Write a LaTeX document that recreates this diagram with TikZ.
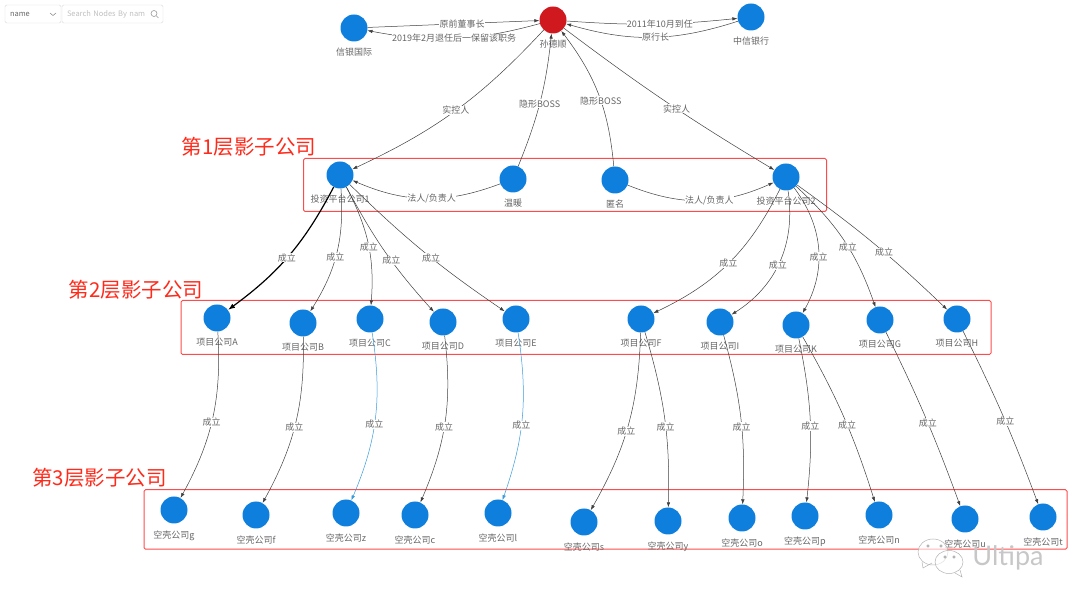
\documentclass[tikz,border=0pt]{standalone}
\usepackage{fontspec}
\setmainfont{Noto Sans CJK SC}
\newfontfamily\wmfont{Lato}
\usetikzlibrary{arrows.meta,shapes.geometric}
\definecolor{nodeblue}{HTML}{0F7FDE}
\definecolor{nodered}{HTML}{D0181F}
\definecolor{framered}{HTML}{FF4B4B}
\definecolor{titlered}{HTML}{FF2A1A}
\definecolor{linkblue}{HTML}{3A9BDC}
\definecolor{textgray}{HTML}{666666}

\begin{document}
\begin{tikzpicture}
[x=1pt,y=1pt,inner sep=0.5mm,label distance=6.5pt,
company/.style={circle,fill=nodeblue,minimum size=27pt,inner sep=0pt},
boss/.style={circle,fill=nodered,minimum size=27pt,inner sep=0pt},
tag/.style={text=textgray,font=\fontsize{9}{9}\selectfont,inner sep=0pt},
rel/.style={draw=black!75,line width=0.5pt,-{Latex[length=5pt,width=3.5pt]}},
mainrel/.style={draw=black,line width=1.2pt,-{Latex[length=7pt,width=5pt]}},
bluerel/.style={draw=linkblue,line width=0.5pt,-{Latex[length=5pt,width=3.5pt]}},
reltext/.style={fill=white,text=textgray,font=\fontsize{9}{9}\selectfont,inner sep=0.4pt},
frame/.style={draw=framered,line width=1pt,rounded corners=1.5pt},
layer/.style={text=titlered,font=\fontsize{20.5}{21}\selectfont,inner sep=0pt},
widget/.style={draw=black!15,rounded corners=1.5pt,text=textgray,font=\fontsize{7.5}{8}\selectfont,inner sep=0pt},
bubble/.style={ellipse,draw=black!30,line width=0.5pt,fill=white,fill opacity=0.6}]
\useasboundingbox (0,0) rectangle (1080,608);

% search box
\node (fieldbox) at (33,594) [widget,minimum width=56pt,minimum height=18pt,text width=46pt] {name};
\node (searchbox) at (112.5,594) [widget,minimum width=101pt,minimum height=18pt,text width=91pt,text=black!25] {Search Nodes By nam};
\coordinate (chevl) at (50,595);
\coordinate (chevm) at (53,592.5);
\coordinate (chevr) at (56,595);
\draw[black!50,line width=0.5pt] (chevl) -- (chevm) -- (chevr);
\node (lens) at (154,594.5) [circle,draw=black!40,line width=0.6pt,minimum size=6pt,inner sep=0pt] {};
\coordinate (lensend) at (158.5,590);
\draw[black!40,line width=0.6pt] (lens) -- (lensend);

% frames
\node (frameone) at (565,423) [frame,minimum width=523pt,minimum height=53pt] {};
\node (frametwo) at (586,280.5) [frame,minimum width=810pt,minimum height=54pt] {};
\node (framethree) at (605.5,88.5) [frame,minimum width=923pt,minimum height=59.5pt] {};
\node (layerone) at (249,461) [layer] {第1层影子公司};
\node (layertwo) at (136,318) [layer] {第2层影子公司};
\node (layerthree) at (99.5,130) [layer] {第3层影子公司};

% top row
\node (xinyin) at (354,580) [company,label={[tag]below:信银国际}] {};
\node (sun) at (553,588) [boss,label={[tag]below:孙德顺}] {};
\node (citic) at (751,591) [company,label={[tag]below:中信银行}] {};

% first layer
\node (platl) at (340,433) [company,label={[tag]below:投资平台公司1}] {};
\node (warm) at (513,429) [company,label={[tag]below:温暖}] {};
\node (anon) at (615,428) [company,label={[tag]below:匿名}] {};
\node (platr) at (786,431) [company,label={[tag]below:投资平台公司2}] {};

% second layer
\node (proja) at (217,290) [company,label={[tag]below:项目公司A}] {};
\node (projb) at (303,285) [company,label={[tag]below:项目公司B}] {};
\node (projc) at (370,289) [company,label={[tag]below:项目公司C}] {};
\node (projd) at (443,286) [company,label={[tag]below:项目公司D}] {};
\node (proje) at (516,289) [company,label={[tag]below:项目公司E}] {};
\node (projf) at (641,289) [company,label={[tag]below:项目公司F}] {};
\node (proji) at (720,286) [company,label={[tag]below:项目公司I}] {};
\node (projk) at (796,283) [company,label={[tag]below:项目公司K}] {};
\node (projg) at (880,288) [company,label={[tag]below:项目公司G}] {};
\node (projh) at (957,289) [company,label={[tag]below:项目公司H}] {};

% third layer
\node (shellg) at (174,98) [company,label={[tag]below:空壳公司g}] {};
\node (shellf) at (256,93) [company,label={[tag]below:空壳公司f}] {};
\node (shellz) at (346,95) [company,label={[tag]below:空壳公司z}] {};
\node (shellc) at (415,93) [company,label={[tag]below:空壳公司c}] {};
\node (shelll) at (498,95) [company,label={[tag]below:空壳公司l}] {};
\node (shells) at (584,86) [company,label={[tag]below:空壳公司s}] {};
\node (shelly) at (668,87) [company,label={[tag]below:空壳公司y}] {};
\node (shello) at (742,90) [company,label={[tag]below:空壳公司o}] {};
\node (shellp) at (805,92) [company,label={[tag]below:空壳公司p}] {};
\node (shelln) at (879,93) [company,label={[tag]below:空壳公司n}] {};
\node (shellu) at (965,89) [company,label={[tag]below:空壳公司u}] {};
\node (shellt) at (1043,91) [company,label={[tag]below:空壳公司t}] {};

% top links
\draw[rel] (xinyin) -- node[reltext,pos=.55] {原前董事长} (sun);
\draw[rel] (sun) to[bend left=13] node[reltext] {2019年2月退任后一保留该职务} (xinyin);
\draw[rel] (sun) to[bend right=5] node[reltext,pos=.55] {2011年10月到任} (citic);
\draw[rel] (citic) to[bend left=17] node[reltext,pos=.48] {原行长} (sun);
\draw[rel] (sun) to[bend left=11] node[reltext] {实控人} (platl);
\draw[rel] (warm) to[bend right=8] node[reltext,pos=.48] {隐形BOSS} (sun);
\draw[rel] (anon) to[bend right=16] node[reltext,pos=.45] {隐形BOSS} (sun);
\draw[rel] (sun) to[bend right=3] node[reltext,pos=.55] {实控人} (platr);
\draw[rel] (warm) to[bend left=22] node[reltext,pos=.46] {法人/负责人} (platl);
\draw[rel] (anon) to[bend right=23] node[reltext,pos=.56] {法人/负责人} (platr);

% first to second
\draw[mainrel] (platl) to[bend left=13] node[reltext,pos=.52] {成立} (proja);
\draw[rel] (platl) to[bend left=18] node[reltext,pos=.54] {成立} (projb);
\draw[rel] (platl) to[bend left=16] node[reltext,pos=.53] {成立} (projc);
\draw[rel] (platl) to[bend right=7] node[reltext,pos=.57] {成立} (projd);
\draw[rel] (platl) to[bend right=5] node[reltext,pos=.55] {成立} (proje);
\draw[rel] (platr) to[bend left=19] node[reltext] {成立} (projf);
\draw[rel] (platr) to[bend left=33] node[reltext,pos=.53] {成立} (proji);
\draw[rel] (platr) to[bend left=33] node[reltext,pos=.56] {成立} (projk);
\draw[rel] (platr) to[bend left=14] node[reltext,pos=.55] {成立} (projg);
\draw[rel] (platr) to[bend left=4] node[reltext,pos=.57] {成立} (projh);

% second to third
\draw[rel] (proja) to[bend left=16] node[reltext,pos=.53] {成立} (shellg);
\draw[rel] (projb) to[bend left=15] node[reltext,pos=.53] {成立} (shellf);
\draw[bluerel] (projc) to[bend left=16] node[reltext,pos=.54] {成立} (shellz);
\draw[rel] (projd) to[bend left=15] node[reltext,pos=.54] {成立} (shellc);
\draw[bluerel] (proje) to[bend left=14] node[reltext,pos=.55] {成立} (shelll);
\draw[rel] (projf) to[bend left=14] node[reltext,pos=.54] {成立} (shells);
\draw[rel] (projf) to[bend left=9] node[reltext,pos=.55] {成立} (shelly);
\draw[rel] (proji) to[bend left=9] node[reltext,pos=.55] {成立} (shello);
\draw[rel] (projk) to[bend left=9] node[reltext,pos=.54] {成立} (shellp);
\draw[rel] (projk) to[bend left=6] node[reltext,pos=.55] {成立} (shelln);
\draw[rel] (projg) to[bend left=3] node[reltext,pos=.53] {成立} (shellu);
\draw[rel] (projh) to[bend left=3] node[reltext,pos=.53] {成立} (shellt);

% watermark
\node (bubblel) at (933,56) [bubble,minimum width=30pt,minimum height=26pt] {};
\draw[black!30,line width=0.5pt] (922,46) -- (923,40) -- (932,45);
\node (bubbler) at (949,46) [bubble,minimum width=28pt,minimum height=23pt] {};
\draw[black!30,line width=0.5pt] (955,35) -- (962,31) -- (960,38);
\draw[black!40,line width=0.5pt] (928,62) circle (1.2pt) (941,62) circle (1.2pt) (945,51) circle (1.2pt) (954,51) circle (1.2pt);
\node (ultipa) at (1008,50) [text=black!22,font=\fontsize{27}{27}\wmfont] {Ultipa};
\end{tikzpicture}
\end{document}
